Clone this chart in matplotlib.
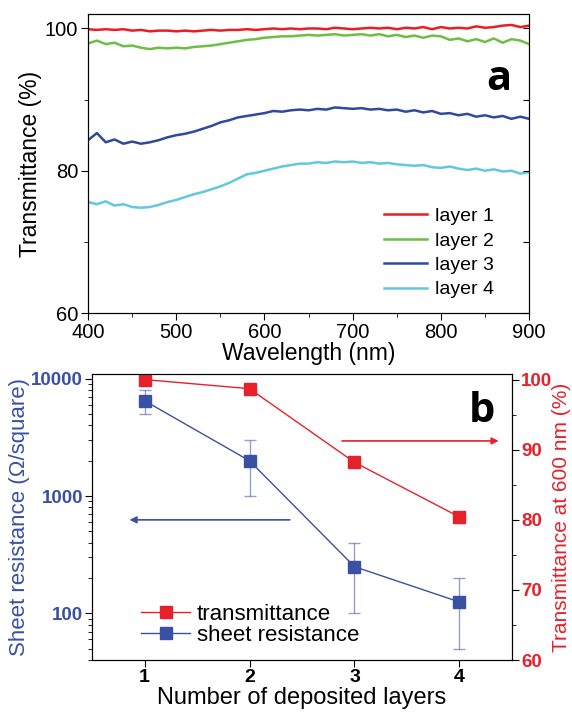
import numpy as np
import matplotlib
matplotlib.use("Agg")
import matplotlib.pyplot as plt
from matplotlib.lines import Line2D
from matplotlib.ticker import MultipleLocator, LogLocator, NullFormatter

plt.rcParams['font.family'] = ['Liberation Sans', 'DejaVu Sans']

# ---- panel a: transmittance spectra ----
wavelength = np.arange(400, 901, 10)
layer1 = [99.9, 99.8, 99.9, 99.8, 99.9, 99.7, 99.8, 99.6, 99.7, 99.7, 99.6, 99.7, 99.6, 99.7, 99.8, 99.7, 99.8,
          99.8, 99.9, 99.8, 99.9, 100.0, 99.9, 100.0, 99.9, 100.0, 100.0, 99.9, 100.1, 100.0, 99.9, 100.0, 100.1,
          100.0, 100.1, 99.9, 100.1, 100.0, 100.2, 99.9, 100.2, 100.0, 100.1, 100.0, 100.3, 100.1, 100.2, 100.4,
          100.5, 100.2, 100.4]
layer2 = [97.9, 98.3, 97.8, 98.0, 97.5, 97.6, 97.3, 97.1, 97.3, 97.2, 97.3, 97.2, 97.4, 97.5, 97.6, 97.8, 98.0,
          98.2, 98.4, 98.5, 98.7, 98.8, 98.9, 98.9, 99.0, 99.1, 99.0, 99.1, 99.2, 99.0, 99.1, 99.2, 99.0, 99.2,
          98.9, 99.1, 98.8, 99.0, 98.7, 99.0, 98.9, 98.4, 98.6, 98.2, 98.5, 98.1, 98.6, 98.0, 98.5, 98.3, 97.8]
layer3 = [84.3, 85.3, 84.0, 84.4, 83.8, 84.1, 83.8, 84.0, 84.3, 84.7, 85.0, 85.2, 85.5, 85.9, 86.3, 86.8, 87.1,
          87.5, 87.7, 87.9, 88.1, 88.4, 88.3, 88.5, 88.6, 88.5, 88.7, 88.6, 88.9, 88.8, 88.7, 88.8, 88.6, 88.7,
          88.5, 88.6, 88.3, 88.5, 88.2, 88.4, 88.0, 88.1, 87.8, 88.0, 87.6, 87.8, 87.5, 87.7, 87.3, 87.6, 87.3]
layer4 = [75.6, 75.3, 75.7, 75.1, 75.3, 74.9, 74.8, 74.9, 75.2, 75.6, 75.9, 76.3, 76.7, 77.0, 77.4, 77.8, 78.3,
          78.9, 79.5, 79.7, 80.0, 80.3, 80.6, 80.8, 81.0, 81.0, 81.2, 81.1, 81.3, 81.2, 81.3, 81.1, 81.2, 81.0,
          81.1, 80.9, 80.8, 80.7, 80.8, 80.5, 80.4, 80.6, 80.3, 80.1, 80.3, 80.0, 80.2, 79.9, 80.0, 79.6, 79.8]
layer_names = ['layer 1', 'layer 2', 'layer 3', 'layer 4']
layer_colors = ['#ec1c24', '#6dbe45', '#2e4b9b', '#62c9dc']

# ---- panel b: sheet resistance and transmittance at 600 nm ----
n_layers = [1, 2, 3, 4]
sheet_res = [6500, 2000, 250, 125]
sheet_res_lo = [5000, 1000, 100, 50]
sheet_res_hi = [8000, 3000, 400, 200]
trans600 = [100.0, 98.7, 88.2, 80.4]

blue = '#3a51a3'
red = '#e8202a'

fig = plt.figure(figsize=(5.72, 7.13), dpi=100)

# panel a
ax1 = fig.add_axes([0.154, 0.561, 0.771, 0.419])
for vals, name, c in zip([layer1, layer2, layer3, layer4], layer_names, layer_colors):
    ax1.plot(wavelength, vals, color=c, lw=1.8, label=name)
ax1.set_xlim(400, 900)
ax1.set_ylim(60, 102)
ax1.xaxis.set_major_locator(MultipleLocator(100))
ax1.xaxis.set_minor_locator(MultipleLocator(50))
ax1.yaxis.set_major_locator(MultipleLocator(20))
ax1.yaxis.set_minor_locator(MultipleLocator(10))
ax1.tick_params(which='both', direction='out', labelsize=14.5, top=False, right=False, pad=2)
ax1.tick_params(which='major', length=5)
ax1.tick_params(which='minor', length=3)
axr = ax1.twinx()
axr.set_ylim(60, 102)
axr.yaxis.set_major_locator(MultipleLocator(10))
axr.tick_params(direction='in', length=4, labelright=False)
ax1.set_xlabel('Wavelength (nm)', fontsize=16.5, labelpad=0)
ax1.set_ylabel('Transmittance (%)', fontsize=16.5, labelpad=2)
ax1.text(0.96, 0.78, 'a', transform=ax1.transAxes, fontsize=30, fontweight='bold',
         family='Open Sans', ha='right', va='center')
ax1.legend(loc='lower right', frameon=False, fontsize=14, handlelength=2.2,
           labelspacing=0.35, borderaxespad=0.5, handletextpad=0.4, bbox_to_anchor=(0.96, -0.01))

# panel b
ax2 = fig.add_axes([0.161, 0.0743, 0.734, 0.4012])
yerr = [np.array(sheet_res) - np.array(sheet_res_lo), np.array(sheet_res_hi) - np.array(sheet_res)]
ax2.errorbar(n_layers, sheet_res, yerr=yerr, fmt='none', ecolor=blue, elinewidth=1, capsize=4,
             alpha=0.55)
ax2.plot(n_layers, sheet_res, color=blue, lw=1, marker='s', ms=8)
ax2.set_yscale('log')
ax2.set_xlim(0.5, 4.5)
ax2.set_ylim(40, 11000)
ax2.set_xticks(n_layers)
ax2.yaxis.set_minor_locator(LogLocator(base=10, subs=np.arange(2, 10), numticks=10))
ax2.yaxis.set_minor_formatter(NullFormatter())
ax2.set_yticks([100, 1000, 10000])
ax2.set_yticklabels(['100', '1000', '10000'])
ax2.tick_params(which='both', direction='out', top=False, right=False, pad=1.5)
ax2.tick_params(which='major', length=5)
ax2.tick_params(which='minor', length=3)
for lab in ax2.get_yticklabels():
    lab.set_color(blue)
    lab.set_fontweight('bold')
    lab.set_fontsize(13.5)
for lab in ax2.get_xticklabels():
    lab.set_fontweight('bold')
    lab.set_fontsize(14)
ax2.set_xlabel('Number of deposited layers', fontsize=17, labelpad=1)
ax2.set_ylabel('Sheet resistance (\u03a9/square)', fontsize=16, color=blue, labelpad=1)
ax2.annotate('', xy=(0.83, 627), xytext=(2.41, 627),
             arrowprops=dict(arrowstyle='-|>', color=blue, lw=1.2, mutation_scale=10))

ax3 = ax2.twinx()
ax3.plot(n_layers, trans600, color=red, lw=1, marker='s', ms=8)
ax3.set_ylim(60, 100.8)
ax3.yaxis.set_major_locator(MultipleLocator(10))
ax3.yaxis.set_minor_locator(MultipleLocator(5))
ax3.tick_params(which='both', direction='out', colors='black', labelcolor=red, labelsize=13.5, pad=1.5)
ax3.tick_params(which='major', length=5)
ax3.tick_params(which='minor', length=3)
for lab in ax3.get_yticklabels():
    lab.set_fontweight('bold')
ax3.set_ylabel('Transmittance at 600 nm (%)', fontsize=15, color=red, labelpad=0)
ax3.annotate('', xy=(4.40, 91.25), xytext=(2.855, 91.25),
             arrowprops=dict(arrowstyle='-|>', color=red, lw=1.2, mutation_scale=10))
ax3.text(0.96, 0.87, 'b', transform=ax3.transAxes, fontsize=30, fontweight='bold',
         family='Open Sans', ha='right', va='center')

handles = [Line2D([], [], color=red, lw=1, marker='s', ms=8),
           Line2D([], [], color=blue, lw=1, marker='s', ms=8)]
ax3.legend(handles, ['transmittance', 'sheet resistance'], loc='lower left', frameon=False,
           fontsize=16, handlelength=2.2, labelspacing=0.0, handletextpad=0.3,
           bbox_to_anchor=(0.07, -0.02))

fig.savefig('out.png', dpi=100)
